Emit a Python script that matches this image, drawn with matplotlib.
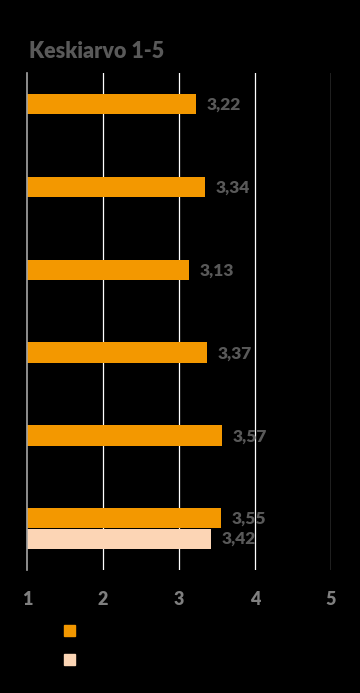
import numpy as np
import matplotlib.pyplot as plt

## Chart data
categories = ["A", "B", "C", "D", "E", "F"]
series_1 = [3.22, 3.34, 3.13, 3.37, 3.57, 3.55]
series_2 = [np.nan, np.nan, np.nan, np.nan, np.nan, 3.42]
x_ticks = [1, 2, 3, 4, 5]

orange = "#F39800"
peach = "#FCD5B5"
grey = "#595959"

fig = plt.figure(figsize=(3.6, 6.93), dpi=100, facecolor="black")
ax = fig.add_axes([0.075, 0.1775, 0.844, 0.717])
ax.set_facecolor("black")

y = np.arange(len(categories))
h = 0.245
ax.barh(y - 0.125, np.array(series_1) - 1, height=h, left=1, color=orange)
ax.barh(y + 0.125, np.array(series_2) - 1, height=h, left=1, color=peach)


def fmt(v):
    return ("%.2f" % round(v, 2)).replace(".", ",")


## Value labels with comma decimals
for yi, v in zip(y, series_1):
    ax.text(v + 0.14, yi - 0.115, fmt(v), color=grey,
            fontsize=12.5, fontweight="heavy", va="center", ha="left", family="Lato")
for yi, v in zip(y, series_2):
    if not np.isnan(v):
        ax.text(v + 0.14, yi + 0.125, fmt(v), color=grey,
                fontsize=12.5, fontweight="heavy", va="center", ha="left", family="Lato")

ax.set_xlim(1, 5)
ax.set_ylim(len(categories) - 0.5, -0.5)
ax.set_xticks(x_ticks)
ax.set_xticklabels([str(t) for t in x_ticks], color="#7f7f7f", fontsize=13,
                   fontweight="heavy", family="Lato")
ax.set_yticks([])
ax.tick_params(axis="x", length=0, pad=15)
for t in x_ticks[1:]:
    ax.axvline(t, color="white", linewidth=0.9, zorder=0)
for s in ["top", "right", "bottom"]:
    ax.spines[s].set_visible(False)
ax.spines["left"].set_color("#a6a6a6")
ax.spines["left"].set_linewidth(1.2)

## Title
fig.text(29 / 360, 1 - 51 / 693, "Keskiarvo 1-5", color=grey, fontsize=15.5,
         fontweight="heavy", family="Lato", va="center", ha="left")

## Legend squares (labels not visible on black)
handles = [plt.Rectangle((0, 0), 1, 1, color=orange),
           plt.Rectangle((0, 0), 1, 1, color=peach)]
leg = fig.legend(handles, ["", ""], loc="upper left",
                 bbox_to_anchor=(51 / 360, 1 - 612 / 693), frameon=False,
                 handlelength=0.8, handleheight=0.8, labelspacing=1.05)

plt.savefig("out.png", dpi=100, facecolor="black")
